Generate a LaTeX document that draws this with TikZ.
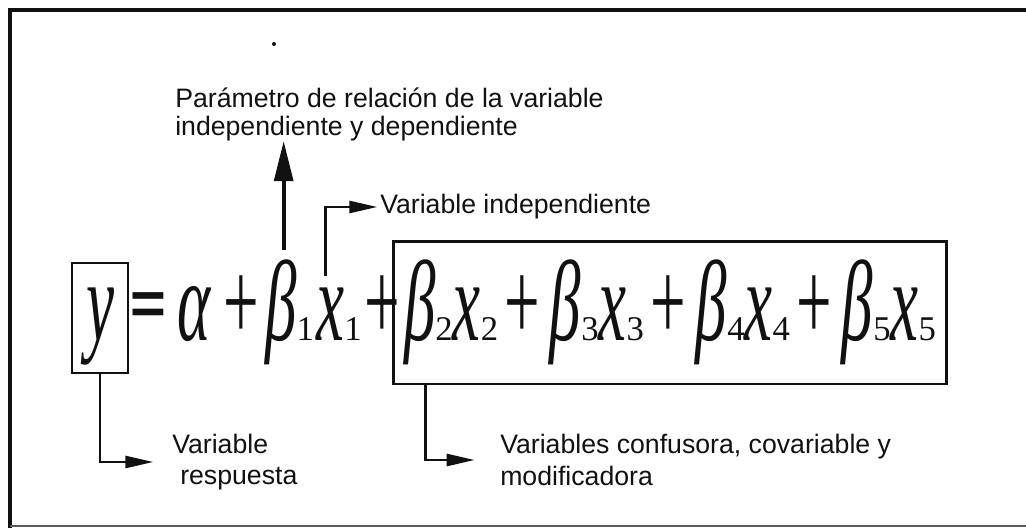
\documentclass[tikz,border=0pt]{standalone}
\usepackage{fontspec}
\setmainfont{Liberation Sans}
\newfontfamily\ecuacion[FakeStretch=0.55]{Liberation Serif}
\newfontfamily\subind{Liberation Serif}
\usetikzlibrary{arrows.meta,positioning}
\definecolor{Tinta}{HTML}{111111}
\definecolor{GrisMarco}{HTML}{5A5A5A}
\newcommand{\indice}[1]{{\subind\upshape\fontsize{26}{26}\selectfont#1}}
\newcommand{\mas}{\hspace{2pt}+\hspace{5pt}}

\begin{document}
\begin{tikzpicture}[
  x=0.75pt, y=-0.75pt,
  every node/.style={font=\fontsize{20}{20.5}\selectfont, text=Tinta},
  formula/.style={font=\ecuacion\itshape\fontsize{86}{86}\selectfont},
  expr/.style={formula, inner sep=0pt, anchor=base west},
  caja/.style={draw=Tinta, line width=2pt},
  nota/.style={align=left, inner sep=0pt, anchor=west},
  notabaja/.style={nota, font=\fontsize{20}{23.5}\selectfont},
  flecha/.style={-{Triangle[length=21pt,width=9pt]}, line width=2pt, draw=Tinta},
  flechagrande/.style={-{Triangle[length=30pt,width=14pt]}, line width=3pt, draw=Tinta}
]
  \useasboundingbox (0,0) rectangle (1026,528);
  % marco
  \draw[line width=3pt, Tinta] (10,528) -- (10,10) -- (1026,10);
  \draw[line width=1pt, GrisMarco] (10,526) -- (1026,526);
  \fill[Tinta] (274,44) circle (1.5pt);

  % ecuacion
  \node[caja, formula, inner sep=0pt, minimum width=42pt, minimum height=82.5pt,
        text height=52pt, text depth=19pt] (yv) at (100,318) {y};
  \node[font=\bfseries\fontsize{46}{46}\selectfont, inner sep=0pt] (igual) at (148,309) {=};
  \node[expr] (alfa) at (177,340) {α};
  \node[expr] (mas1) at (219,340) {+};
  \node[expr] (beta1) at (265,340) {β\indice{1}};
  \node[expr] (x1) at (316,340) {x\indice{1}};
  \node[expr] (mas2) at (360,340) {+};
  \node[caja, formula, inner sep=0pt, anchor=north west,
        minimum width=415pt, minimum height=107pt] (resto) at (392,240)
    {β\indice{2}x\indice{2}\mas β\indice{3}x\indice{3}\mas β\indice{4}x\indice{4}\mas β\indice{5}x\indice{5}};

  % textos
  \node[nota, anchor=north west] (param) at (175,88)
    {Parámetro de relación de la variable\\independiente y dependiente};
  \node[nota] (indep) at (380,207) {Variable independiente};
  \node[notabaja] (resp) at (172,462) {Variable\\\hspace*{6pt}respuesta};
  \node[notabaja] (conf) at (500,460) {Variables confusora, covariable y\\modificadora};

  % flechas
  \coordinate (pbeta) at ([xshift=14pt,yshift=7pt]beta1.north west);
  \coordinate (px) at ([xshift=7pt,yshift=8pt]x1.north west);
  \coordinate (pr) at ([xshift=25pt]resto.south west);
  \draw[flechagrande] (pbeta) -- (pbeta |- param.south);
  \draw[flecha, shorten >=2pt] (px) |- (indep.west);
  \draw[flecha, shorten >=14pt] (yv.south) |- (resp.west);
  \draw[flecha, shorten >=19pt] (pr) |- (conf.west);
\end{tikzpicture}
\end{document}
